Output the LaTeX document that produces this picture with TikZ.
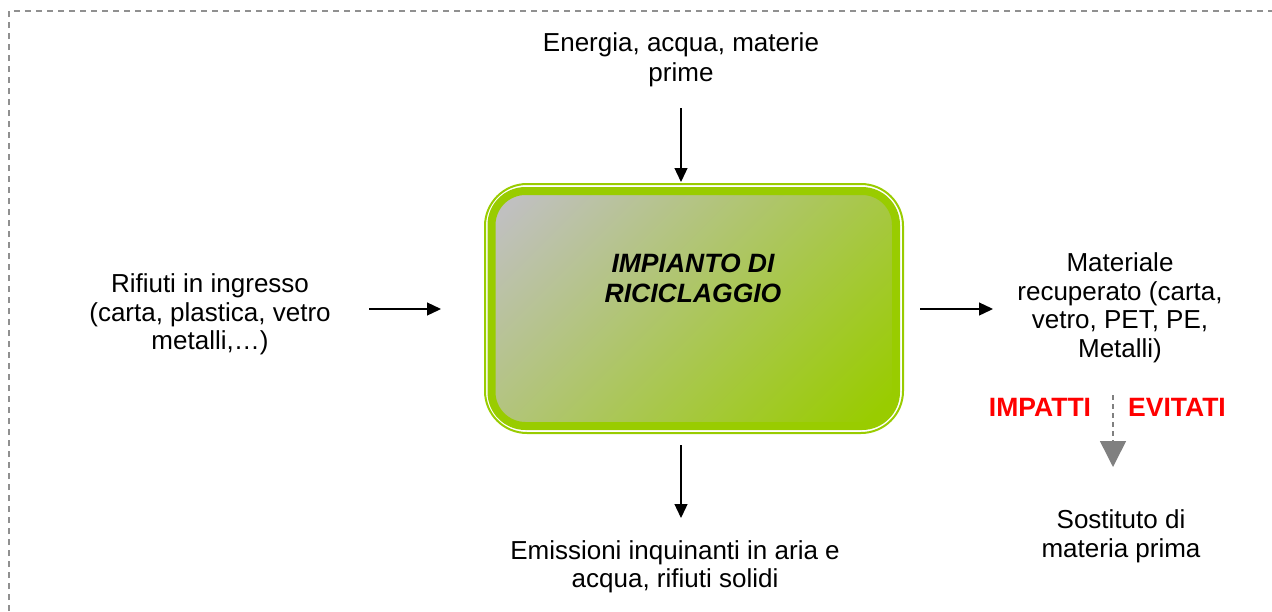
\documentclass[tikz,border=0pt]{standalone}
\usepackage{fontspec}
\setmainfont{Liberation Sans}
\usetikzlibrary{arrows.meta}
\definecolor{lime}{HTML}{99CC00}
\definecolor{boxgray}{HTML}{C0C0C0}
\definecolor{bordergray}{HTML}{909090}
\definecolor{arrgray}{HTML}{808080}
\pgfdeclareverticalshading{diagfade}{100bp}{color(0bp)=(lime); color(18bp)=(lime); color(82bp)=(boxgray); color(100bp)=(boxgray)}
\tikzset{
  lbl/.style={align=center, inner sep=0pt, font=\fontsize{26}{28.5}\selectfont},
  flow/.style={-{Triangle[length=14pt,width=13pt]}, line width=1.3pt, black},
  avoided/.style={-{Triangle[length=26pt,width=26pt]}, line width=1.5pt, arrgray, dash pattern=on 5pt off 4pt},
  redlbl/.style={inner sep=0pt, text=red, font=\fontsize{26.5}{28}\selectfont\bfseries}
}
\begin{document}
\begin{tikzpicture}[x=1pt,y=-1pt]
\useasboundingbox (0,0) rectangle (1272,611);
% border
\draw[bordergray, line width=1.5pt, dash pattern=on 6pt off 5pt] (9,611) -- (9,11) -- (1272,11);
% box
\draw[lime, line width=2pt, rounded corners=42pt] (485,184) rectangle (903,433);
\shade[shading=diagfade, shading angle=45, rounded corners=34pt] (491.5,191) rectangle (896,426);
\draw[lime, line width=8pt, rounded corners=34pt] (491.5,191) rectangle (896,426);
\node[inner sep=0pt, minimum width=405pt, minimum height=235pt] (box) at (693.75,308.5) {};
\node[align=center, inner sep=0pt, font=\fontsize{26.5}{30}\selectfont\bfseries\itshape] (title) at (693,278) {IMPIANTO DI\\RICICLAGGIO};
% texts
\node[lbl, font=\fontsize{26}{30}\selectfont] (inp) at (681,59.5) {Energia, acqua, materie\\prime};
\node[lbl] (left) at (210,314.5) {Rifiuti in ingresso\\(carta, plastica, vetro\\metalli,…)};
\node[lbl] (right) at (1120,308) {Materiale\\recuperato (carta,\\vetro, PET, PE,\\Metalli)};
\node[lbl] (emis) at (675,567) {Emissioni inquinanti in aria e\\acqua, rifiuti solidi};
\node[lbl] (sost) at (1121,536.5) {Sostituto di\\materia prima};
\node[redlbl] (imp) at (1040,407) {IMPATTI};
\node[redlbl] (evi) at (1177,407) {EVITATI};
% connectors
\coordinate (t1) at (681,108); \coordinate (t2) at (681,182);
\coordinate (l1) at (369,309); \coordinate (l2) at (441,309);
\coordinate (r1) at (920,309); \coordinate (r2) at (993,309);
\coordinate (b1) at (681,445); \coordinate (b2) at (681,518);
\coordinate (d1) at (1113,395); \coordinate (d2) at (1113,467);
\draw[flow] (t1) -- (t2);
\draw[flow] (l1) -- (l2);
\draw[flow] (r1) -- (r2);
\draw[flow] (b1) -- (b2);
\draw[avoided] (d1) -- (d2);
\end{tikzpicture}
\end{document}
